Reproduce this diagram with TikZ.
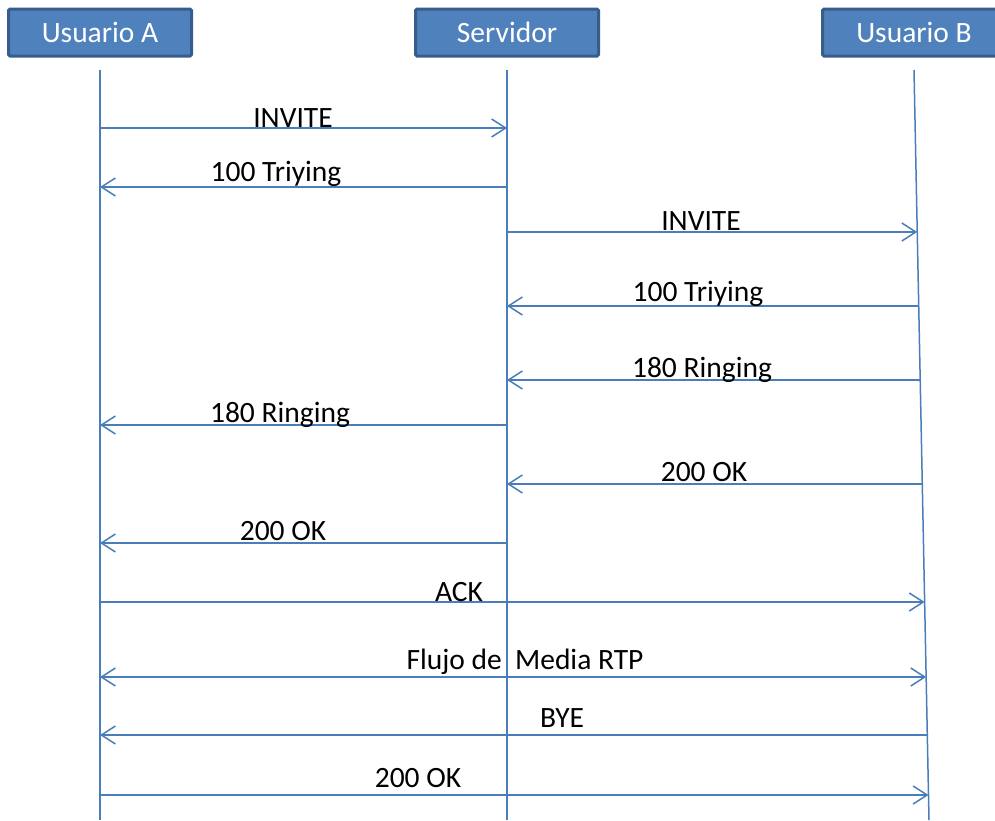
\documentclass[tikz,border=0pt]{standalone}
\usepackage{fontspec}
\setmainfont{Carlito}
\usetikzlibrary{arrows.meta,calc}
\definecolor{boxfill}{RGB}{79,129,189}
\definecolor{boxline}{RGB}{56,93,138}
\definecolor{msgline}{RGB}{74,126,187}

\begin{document}
\begin{tikzpicture}[x=1pt,y=-1pt,
  actor/.style={draw=boxline,line width=3pt,fill=boxfill,text=white,minimum width=183pt,minimum height=47pt,rounded corners=1.5pt,inner sep=0pt,font=\fontsize{29.5}{32}\selectfont},
  life/.style={msgline,line width=1.5pt},
  msg/.style={msgline,line width=1.5pt,-{Straight Barb[length=14pt,width=18pt,line width=1.5pt]}},
  both/.style={msgline,line width=1.5pt,{Straight Barb[length=14pt,width=18pt,line width=1.5pt]}-{Straight Barb[length=14pt,width=18pt,line width=1.5pt]}},
  lbl/.style={anchor=base,inner sep=0pt,font=\fontsize{29.5}{32}\selectfont}]
\useasboundingbox (0,0) rectangle (995,820);
% actors
\node[actor] (ua) at (100,32.5) {Usuario A};
\node[actor] (srv) at (507,32.5) {Servidor};
\node[actor] (ub) at (914,32.5) {Usuario B};
% lifelines
\coordinate (aTop) at (100,70); \coordinate (aBot) at (100,820);
\coordinate (sTop) at (507,70); \coordinate (sBot) at (507,820);
\coordinate (bTop) at (914,70); \coordinate (bBot) at (929,820);
\draw[life] (aTop) -- (aBot);
\draw[life] (sTop) -- (sBot);
\draw[life] (bTop) -- (bBot);
% messages
\foreach \y/\from/\to/\tip/\lx/\by/\txt [count=\i] in {
  128/a/s/msg/293/127/INVITE,
  187/s/a/msg/276/181/100 Triying,
  232/s/b/msg/701/230/INVITE,
  306/b/s/msg/698/301/100 Triying,
  380/b/s/msg/702/377/180 Ringing,
  425/s/a/msg/280/422/180 Ringing,
  484/b/s/msg/704/481/200 OK,
  543/s/a/msg/283/540/200 OK,
  602/a/b/msg/459/601/ACK,
  677/a/b/both/525/669/Flujo de~ Media RTP,
  735/b/a/msg/562/727/BYE,
  795/a/b/msg/418/787/200 OK}{
  \pgfmathsetmacro\t{(\y-70)/750}
  \coordinate (src) at ($(\from Top)!\t!(\from Bot)$);
  \coordinate (dst) at ($(\to Top)!\t!(\to Bot)$);
  \draw[\tip] (src) -- (dst);
  \node[lbl] (l\i) at (\lx,\by) {\txt};
}
\end{tikzpicture}
\end{document}
